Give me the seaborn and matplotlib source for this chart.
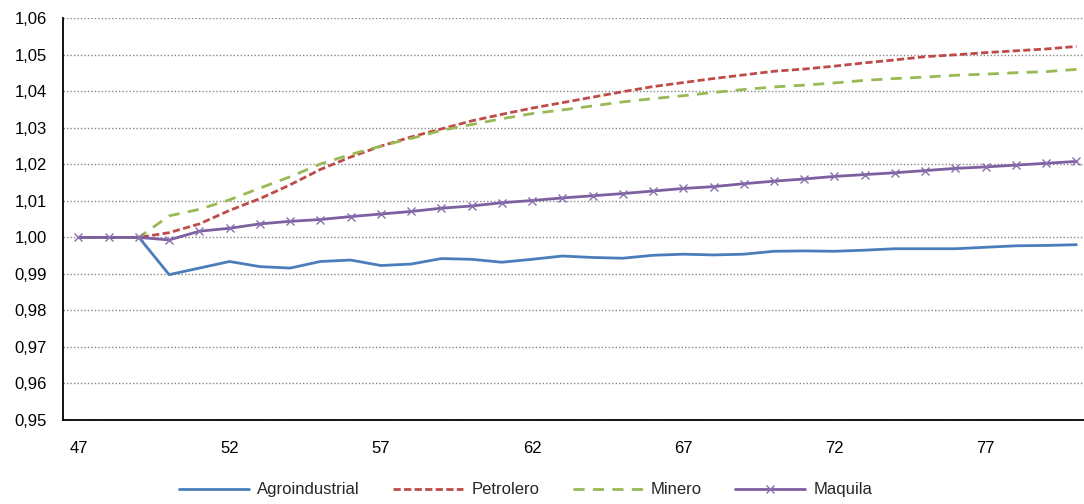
import matplotlib
matplotlib.use("Agg")
import matplotlib.pyplot as plt
from matplotlib.ticker import FuncFormatter, MultipleLocator
import seaborn as sns
import pandas as pd

periods = list(range(47, 81))

agroindustrial = [1.000, 1.000, 1.000, 0.9898, 0.9916, 0.9934, 0.9920, 0.9916, 0.9934, 0.9938,
                  0.9923, 0.9927, 0.9942, 0.9940, 0.9932, 0.9940, 0.9949, 0.9945, 0.9943, 0.9951,
                  0.9954, 0.9952, 0.9954, 0.9962, 0.9963, 0.9962, 0.9965, 0.9969, 0.9969, 0.9969,
                  0.9973, 0.9977, 0.9978, 0.9980]
petrolero = [1.000, 1.000, 1.000, 1.0013, 1.0037, 1.0074, 1.0106, 1.0144, 1.0186, 1.0220,
             1.0250, 1.0275, 1.0297, 1.0319, 1.0337, 1.0354, 1.0369, 1.0384, 1.0399, 1.0413,
             1.0424, 1.0435, 1.0445, 1.0455, 1.0461, 1.0469, 1.0478, 1.0486, 1.0495, 1.0500,
             1.0506, 1.0511, 1.0516, 1.0523]
minero = [1.000, 1.000, 1.000, 1.0059, 1.0077, 1.0103, 1.0135, 1.0166, 1.0201, 1.0227,
          1.0250, 1.0271, 1.0293, 1.0309, 1.0325, 1.0339, 1.0349, 1.0360, 1.0371, 1.0380,
          1.0388, 1.0397, 1.0405, 1.0412, 1.0417, 1.0423, 1.0430, 1.0435, 1.0439, 1.0444,
          1.0447, 1.0451, 1.0454, 1.0460]
maquila = [1.000, 1.000, 1.000, 0.9993, 1.0017, 1.0025, 1.0037, 1.0044, 1.0049, 1.0057,
           1.0064, 1.0071, 1.0080, 1.0086, 1.0095, 1.0101, 1.0108, 1.0114, 1.0120, 1.0127,
           1.0134, 1.0139, 1.0147, 1.0154, 1.0160, 1.0167, 1.0172, 1.0177, 1.0183, 1.0189,
           1.0193, 1.0198, 1.0203, 1.0208]

series_names = ["Agroindustrial", "Petrolero", "Minero", "Maquila"]
x_ticks = [47, 52, 57, 62, 67, 72, 77]

df = pd.DataFrame({"periodo": periods,
                   "Agroindustrial": agroindustrial,
                   "Petrolero": petrolero,
                   "Minero": minero,
                   "Maquila": maquila})

sns.set_theme(style="white")
plt.rcParams["font.family"] = ["Liberation Sans", "DejaVu Sans"]

fig = plt.figure(figsize=(10.84, 5.04), dpi=100)
ax = fig.add_axes([0.0584, 0.1667, 0.9416, 0.797])

lw = 2.0
sns.lineplot(data=df, x="periodo", y="Agroindustrial", ax=ax, color="#4A7EBB",
             linewidth=lw, label="Agroindustrial")
sns.lineplot(data=df, x="periodo", y="Petrolero", ax=ax, color="#BE4B48",
             linewidth=lw, label="Petrolero")
ax.lines[-1].set_dashes((2.6, 1.2))
sns.lineplot(data=df, x="periodo", y="Minero", ax=ax, color="#98B954",
             linewidth=lw, label="Minero")
ax.lines[-1].set_dashes((4.0, 3.0))
sns.lineplot(data=df, x="periodo", y="Maquila", ax=ax, color="#7D60A0",
             linewidth=lw, label="Maquila", marker="x", markersize=5.5,
             markeredgewidth=1.0, markeredgecolor="#8A6FAF")

ax.set_xlim(46.5, 80.25)
ax.set_ylim(0.95, 1.06)
ax.yaxis.set_major_locator(MultipleLocator(0.01))
ax.yaxis.set_major_formatter(FuncFormatter(lambda v, p: f"{v:.2f}".replace(".", ",")))
ax.set_xticks(x_ticks)
ax.set_xticklabels([str(t) for t in x_ticks])
ax.tick_params(axis="both", length=0, labelsize=12, colors="black")
ax.tick_params(axis="x", pad=15)
ax.tick_params(axis="y", pad=12)
ax.set_xlabel("")
ax.set_ylabel("")

ax.grid(axis="y", color="#868686", linestyle=(0, (1, 1.5)), linewidth=1.0)
ax.grid(axis="x", visible=False)
ax.set_axisbelow(True)
for s in ["top", "right"]:
    ax.spines[s].set_visible(False)
for s in ["left", "bottom"]:
    ax.spines[s].set_color("black")
    ax.spines[s].set_linewidth(1.3)
    ax.spines[s].set_zorder(3)

ax.legend(loc="center", bbox_to_anchor=(0.453, -0.174), ncol=4, frameon=False,
          fontsize=12, handlelength=4.2, columnspacing=2.0, handletextpad=0.5,
          borderpad=0, borderaxespad=0)

fig.savefig("out.png", dpi=100)
